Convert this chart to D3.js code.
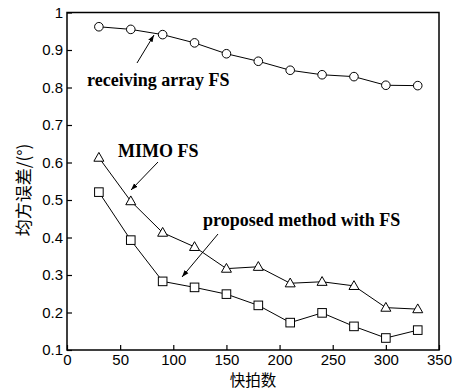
<!DOCTYPE html>
<html>
<head>
<meta charset="utf-8">
<script src="https://cdn.jsdelivr.net/npm/d3@7"></script>
<style>
  body { margin: 0; background: #fff; }
  svg { display: block; }
</style>
</head>
<body>
<svg id="chart"></svg>
<script>
const snapshots = [30, 60, 90, 120, 150, 180, 210, 240, 270, 300, 330]
const receivingFS = [0.962, 0.955, 0.941, 0.919, 0.890, 0.870, 0.846, 0.834, 0.829, 0.806, 0.805]
const mimoFS = [0.613, 0.497, 0.413, 0.375, 0.317, 0.322, 0.278, 0.282, 0.271, 0.213, 0.209]
const proposedFS = [0.521, 0.393, 0.283, 0.267, 0.249, 0.219, 0.173, 0.199, 0.163, 0.132, 0.153]
const xTicks = [0, 50, 100, 150, 200, 250, 300, 350]
const yTicks = [0.1, 0.2, 0.3, 0.4, 0.5, 0.6, 0.7, 0.8, 0.9, 1]

const width = 463, height = 391
const margin = { top: 12.5, right: 24, bottom: 41, left: 67 }

const x = d3.scaleLinear().domain([0, 350]).range([margin.left, width - margin.right])
const y = d3.scaleLinear().domain([0.1, 1]).range([height - margin.bottom, margin.top])

const svg = d3.select("#chart")
    .attr("width", width)
    .attr("height", height)
    .attr("viewBox", [0, 0, width, height])

const sans = "'Liberation Sans', Arial, sans-serif"
const serif = "'Liberation Serif', 'Times New Roman', serif"
const cjk = "'Noto Sans CJK SC', sans-serif"

// axes, ticks pointing inward
svg.append("g")
    .attr("transform", `translate(0,${y(0.1)})`)
    .call(d3.axisBottom(x).tickValues(xTicks).tickSize(-5).tickPadding(4).tickFormat(d3.format("d")))
    .call(g => g.select(".domain").remove())
    .call(g => g.selectAll("line").attr("stroke-width", 1.2))
    .call(g => g.selectAll("text").attr("font-family", sans).attr("font-size", 15).attr("fill", "#000"))

svg.append("g")
    .attr("transform", `translate(${x(0)},0)`)
    .call(d3.axisLeft(y).tickValues(yTicks).tickSize(-5).tickPadding(4).tickFormat(d => d === 1 ? "1" : d3.format(".1f")(d)))
    .call(g => g.select(".domain").remove())
    .call(g => g.selectAll("line").attr("stroke-width", 1.2))
    .call(g => g.selectAll("text").attr("font-family", sans).attr("font-size", 15).attr("fill", "#000"))

svg.append("rect")
    .attr("x", x(0))
    .attr("y", y(1))
    .attr("width", x(350) - x(0))
    .attr("height", y(0.1) - y(1))
    .attr("fill", "none")
    .attr("stroke", "#000")
    .attr("stroke-width", 1.5)

const line = d3.line().x((d, i) => x(snapshots[i])).y(d => y(d))

const series = [
  { values: receivingFS, shape: "circle" },
  { values: mimoFS, shape: "triangle" },
  { values: proposedFS, shape: "square" }
]

series.forEach(s => {
  svg.append("path")
      .attr("fill", "none")
      .attr("stroke", "#000")
      .attr("stroke-width", 1)
      .attr("d", line(s.values))

  const g = svg.append("g").attr("fill", "#fff").attr("stroke", "#000").attr("stroke-width", 1)
  s.values.forEach((v, i) => {
    const cx = x(snapshots[i]), cy = y(v)
    if (s.shape === "circle") {
      g.append("circle").attr("cx", cx).attr("cy", cy).attr("r", 4.3)
    } else if (s.shape === "square") {
      g.append("rect").attr("x", cx - 4.3).attr("y", cy - 4.3).attr("width", 8.6).attr("height", 8.6)
    } else {
      g.append("path").attr("d", `M${cx},${cy - 5.2}L${cx + 5},${cy + 3.6}L${cx - 5},${cy + 3.6}Z`)
    }
  })
})

// annotations with arrows
svg.append("defs").append("marker")
    .attr("id", "arrow")
    .attr("viewBox", "0 0 10 10")
    .attr("refX", 10).attr("refY", 5)
    .attr("markerWidth", 7).attr("markerHeight", 7)
    .attr("orient", "auto")
  .append("path")
    .attr("d", "M0,1.5L10,5L0,8.5Z")
    .attr("fill", "#000")

const notes = [
  { text: "receiving array FS", tx: 87, ty: 86, from: [137, 63], to: [154, 35] },
  { text: "MIMO FS", tx: 118, ty: 157, from: [158, 162], to: [131, 190] },
  { text: "proposed method with FS", tx: 203, ty: 226, from: [218, 234], to: [182, 277] }
]

notes.forEach(n => {
  svg.append("text")
      .attr("x", n.tx).attr("y", n.ty)
      .attr("font-family", serif)
      .attr("font-weight", "bold")
      .attr("font-size", 18)
      .text(n.text)
  svg.append("line")
      .attr("x1", n.from[0]).attr("y1", n.from[1])
      .attr("x2", n.to[0]).attr("y2", n.to[1])
      .attr("stroke", "#000")
      .attr("stroke-width", 1)
      .attr("marker-end", "url(#arrow)")
})

svg.append("text")
    .attr("x", (x(0) + x(350)) / 2)
    .attr("y", 386)
    .attr("text-anchor", "middle")
    .attr("font-family", cjk)
    .attr("font-size", 15.5)
    .text("快拍数")

svg.append("text")
    .attr("transform", `translate(30,190) rotate(-90)`)
    .attr("text-anchor", "middle")
    .attr("font-family", cjk)
    .attr("font-size", 17)
    .text("均方误差/(°)")
</script>
</body>
</html>
